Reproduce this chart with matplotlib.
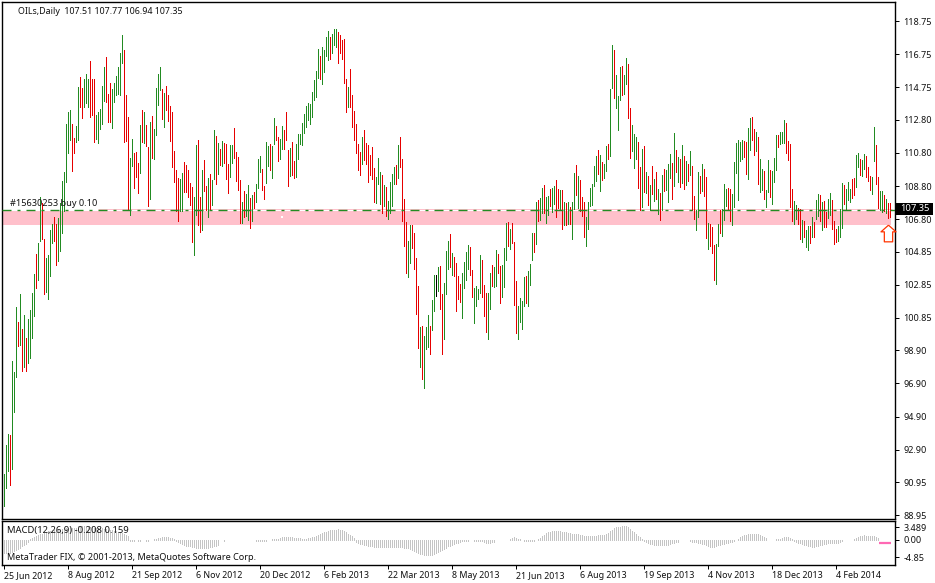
import matplotlib
matplotlib.use("Agg")
import matplotlib.pyplot as plt
from matplotlib.patches import Rectangle
from matplotlib.path import Path
import numpy as np

WIDTH, HEIGHT = 935, 583
FONT = "Noto Sans"

# daily bars
bar_high = [
    91.44, 93.19, 93.85, 93.79, 98.25, 97.59, 101.51, 100.60, 102.29, 100.18,
    101.03, 99.64, 100.78, 101.33, 102.35, 103.50, 104.70, 105.37, 108.14, 107.78,
    105.61, 104.46, 104.64, 106.15, 106.51, 106.93, 106.51, 106.87, 107.78, 109.11,
    109.65, 112.54, 113.27, 113.39, 112.54, 111.70, 112.42, 114.77, 115.38, 114.71,
    115.26, 115.56, 115.26, 116.34, 115.26, 115.26, 113.09, 113.27, 113.45, 114.83,
    115.98, 116.58, 114.35, 115.02, 114.65, 115.02, 115.44, 115.98, 116.82, 117.91,
    117.00, 114.29, 112.96, 110.49, 111.64, 110.79, 110.85, 110.19, 112.48, 113.39,
    113.27, 112.48, 111.16, 112.66, 113.03, 112.24, 114.71, 115.56, 115.98, 114.65,
    114.41, 114.83, 114.29, 113.63, 113.27, 110.91, 109.77, 109.29, 109.23, 109.59,
    110.25, 110.07, 109.77, 108.98, 108.74, 108.14, 111.28, 111.58, 108.14, 109.77,
    110.37, 108.80, 109.29, 109.53, 109.17, 112.18, 111.82, 111.40, 111.04, 111.52,
    111.40, 111.34, 110.13, 111.28, 111.28, 112.30, 110.85, 110.55, 109.17, 107.84,
    108.50, 108.32, 108.86, 108.08, 108.26, 108.44, 108.92, 110.43, 110.61, 109.83,
    108.80, 111.46, 111.22, 111.34, 111.22, 112.90, 112.42, 111.76, 111.64, 112.42,
    112.18, 113.27, 110.98, 111.10, 111.46, 110.31, 111.34, 111.94, 111.94, 112.60,
    113.15, 113.63, 113.81, 113.75, 114.47, 115.20, 115.74, 117.07, 116.64, 117.19,
    117.00, 117.79, 118.15, 117.79, 117.97, 118.27, 118.27, 118.09, 117.91, 117.61,
    117.67, 115.26, 114.77, 115.86, 114.29, 113.33, 112.54, 111.34, 110.85, 111.76,
    112.18, 111.40, 111.28, 110.67, 111.16, 109.89, 109.35, 110.49, 109.65, 109.47,
    108.86, 108.74, 107.90, 109.05, 109.53, 109.95, 110.07, 111.28, 111.76, 110.43,
    108.02, 106.63, 105.49, 106.45, 106.45, 105.97, 104.46, 102.77, 100.30, 100.36,
    99.76, 100.30, 101.03, 100.36, 101.93, 103.44, 103.44, 103.92, 103.98, 102.29,
    102.95, 104.89, 105.49, 105.91, 104.76, 104.52, 104.16, 103.38, 102.89, 103.56,
    104.22, 104.82, 105.25, 105.13, 103.74, 102.65, 102.77, 102.59, 104.64, 104.34,
    102.83, 102.35, 102.35, 103.56, 104.04, 103.92, 104.95, 104.70, 103.98, 104.04,
    105.07, 106.57, 106.63, 106.21, 106.57, 105.43, 103.08, 101.57, 102.05, 101.87,
    103.32, 103.38, 103.68, 104.10, 105.97, 105.97, 107.84, 107.96, 108.08, 108.68,
    108.86, 108.14, 108.20, 108.62, 108.68, 108.80, 109.17, 108.62, 108.56, 108.56,
    107.84, 107.78, 107.84, 107.54, 107.84, 109.59, 110.07, 109.41, 109.17, 108.14,
    107.84, 106.93, 107.84, 108.68, 108.92, 110.01, 110.61, 110.98, 110.67, 110.25,
    110.13, 111.22, 111.34, 114.65, 117.31, 117.00, 115.50, 114.23, 115.98, 116.04,
    115.50, 116.52, 116.16, 113.51, 112.48, 111.94, 111.76, 111.46, 109.95, 111.04,
    111.22, 109.65, 109.41, 108.86, 110.01, 109.23, 109.65, 108.62, 108.38, 109.47,
    109.83, 109.77, 110.13, 110.73, 110.19, 112.00, 110.98, 110.55, 110.43, 111.28,
    110.61, 110.31, 110.13, 110.91, 110.01, 108.20, 107.36, 109.65, 109.41, 110.13,
    109.83, 109.35, 106.57, 106.51, 106.33, 105.25, 105.31, 106.51, 107.36, 107.42,
    108.92, 108.62, 108.68, 108.62, 108.32, 110.25, 111.40, 111.58, 111.46, 111.58,
    111.52, 111.46, 112.30, 112.90, 112.96, 112.24, 112.06, 111.76, 110.43, 109.83,
    109.71, 108.56, 110.37, 109.77, 109.71, 110.49, 111.88, 111.88, 112.06, 112.06,
    112.78, 112.60, 111.52, 111.34, 108.62, 107.90, 107.66, 107.48, 107.42, 106.75,
    106.69, 106.15, 106.39, 106.39, 106.93, 106.63, 107.96, 108.32, 108.26, 107.84,
    107.90, 107.24, 108.02, 108.38, 107.96, 106.69, 106.21, 106.39, 107.42, 108.98,
    108.86, 108.62, 109.05, 108.62, 109.23, 109.29, 110.67, 110.79, 110.43, 110.37,
    110.73, 110.61, 109.95, 109.41, 109.35, 112.36, 111.28, 109.35, 108.50, 108.50,
    108.26, 108.02, 107.78, 107.77,
]
bar_low = [
    89.51, 90.59, 91.62, 90.77, 91.74, 95.18, 97.29, 99.16, 99.22, 97.65,
    97.89, 97.65, 98.13, 98.43, 99.64, 100.97, 102.65, 103.14, 105.49, 105.61,
    102.29, 102.41, 101.99, 103.38, 105.37, 105.49, 104.04, 104.28, 104.89, 105.97,
    107.30, 109.05, 110.79, 111.58, 109.71, 110.79, 111.46, 111.58, 113.57, 112.90,
    113.57, 113.81, 113.57, 112.96, 113.09, 111.46, 111.64, 111.40, 112.24, 112.54,
    113.93, 113.87, 112.66, 112.66, 112.30, 113.87, 114.29, 114.35, 114.29, 116.22,
    111.46, 111.52, 107.36, 107.06, 110.01, 108.68, 109.35, 108.38, 109.59, 111.46,
    111.40, 111.22, 107.60, 108.02, 110.49, 110.43, 111.88, 113.69, 114.59, 112.84,
    112.36, 113.39, 112.72, 111.52, 109.95, 109.05, 107.30, 106.69, 107.30, 107.30,
    108.44, 108.44, 108.14, 107.66, 105.43, 104.64, 107.06, 106.45, 106.03, 106.15,
    108.50, 107.36, 106.93, 107.36, 107.66, 109.23, 108.92, 109.53, 110.07, 110.01,
    110.19, 109.23, 108.38, 109.35, 110.19, 110.49, 109.11, 108.56, 106.57, 106.57,
    106.93, 106.99, 106.75, 106.27, 106.69, 107.48, 107.84, 108.68, 109.65, 108.56,
    108.02, 108.98, 110.01, 109.77, 109.29, 111.34, 111.58, 110.31, 110.43, 111.04,
    111.04, 111.58, 108.80, 109.41, 109.47, 109.29, 109.35, 110.43, 111.34, 111.28,
    112.00, 112.36, 112.78, 112.54, 112.96, 113.99, 114.17, 115.32, 115.26, 114.95,
    115.68, 116.64, 116.40, 116.46, 116.82, 117.31, 117.19, 116.22, 116.82, 116.46,
    115.02, 113.27, 113.57, 113.57, 112.36, 111.58, 110.79, 109.77, 109.47, 110.13,
    110.37, 110.13, 109.05, 109.47, 109.23, 107.84, 107.78, 108.92, 107.72, 107.18,
    107.60, 106.99, 106.81, 107.18, 107.60, 108.92, 108.92, 109.29, 109.95, 106.69,
    105.19, 103.56, 103.32, 104.16, 105.07, 103.80, 101.09, 99.04, 97.89, 97.17,
    96.62, 98.98, 99.10, 98.67, 100.12, 101.27, 102.17, 102.47, 101.39, 98.67,
    99.58, 102.29, 103.80, 103.92, 103.44, 103.38, 101.27, 101.99, 101.81, 100.84,
    102.65, 103.14, 103.80, 103.44, 102.11, 100.54, 101.57, 101.99, 102.35, 102.11,
    100.97, 100.00, 99.58, 101.39, 102.77, 102.71, 102.77, 103.56, 101.75, 102.11,
    102.71, 104.34, 105.19, 105.01, 105.37, 101.63, 99.94, 99.58, 100.60, 100.18,
    101.57, 101.75, 101.57, 102.83, 104.34, 104.82, 105.31, 106.69, 106.75, 107.18,
    107.18, 106.57, 107.06, 107.60, 107.24, 107.72, 106.93, 107.48, 107.42, 106.21,
    106.45, 106.45, 106.51, 106.51, 105.61, 107.42, 108.26, 107.48, 107.30, 106.99,
    105.73, 105.19, 106.21, 107.60, 107.66, 108.80, 109.11, 109.53, 108.50, 109.17,
    109.29, 109.71, 110.43, 110.61, 114.71, 114.11, 113.51, 112.18, 113.99, 114.29,
    114.35, 114.95, 112.90, 110.49, 110.91, 109.89, 110.43, 108.68, 107.36, 107.54,
    108.44, 108.38, 107.66, 107.36, 108.32, 107.90, 108.02, 107.12, 106.75, 107.36,
    108.50, 108.56, 107.84, 109.29, 108.02, 108.80, 109.65, 109.05, 108.74, 108.98,
    108.62, 108.86, 109.11, 109.47, 107.36, 106.81, 106.15, 106.93, 108.38, 108.50,
    108.20, 105.67, 105.01, 105.19, 104.76, 103.14, 102.89, 105.19, 105.97, 105.79,
    106.75, 107.60, 107.42, 106.69, 106.45, 107.54, 109.59, 107.96, 110.31, 110.43,
    110.55, 109.53, 109.23, 110.98, 111.58, 110.67, 110.91, 108.92, 108.44, 108.56,
    108.02, 107.54, 108.44, 108.14, 107.72, 109.05, 109.77, 111.16, 111.34, 111.40,
    111.40, 110.79, 110.37, 107.54, 106.69, 106.51, 106.81, 106.51, 105.61, 105.43,
    105.73, 105.13, 104.95, 105.37, 105.73, 105.73, 106.81, 106.99, 106.69, 106.15,
    106.33, 106.33, 106.87, 107.06, 106.21, 105.31, 105.43, 105.49, 105.73, 106.27,
    107.72, 107.42, 107.96, 107.84, 108.08, 108.26, 108.74, 109.95, 109.47, 109.41,
    109.83, 109.35, 109.11, 108.56, 108.32, 110.31, 108.92, 107.48, 107.36, 107.24,
    107.30, 107.18, 106.87, 106.94,
]
# G up, R down, K doji
bar_dir = "".join([
    "GGGRGGGRGR", "GRGGGGRGGR", "RGGGGRRGGG", "GGGGRRGGRR", "GGGRRRGGGG",
    "GRRRGGGGGG", "RRRGGRRRGR", "GRRGRGGGGR", "GRRRRRRRGG", "RRRRRGGRRG",
    "RRGRGGRGRG", "RRRGGRRRRG", "RGGRGRGGGR", "RGGRGGRRGG", "RRRGRRGGGG",
    "GGGGGGGGRG", "GGGRGGGRRR", "RRGRRRRRRG", "RRRRRRGGGR", "GRGGGGRGRR",
    "RRGGRRRRGR", "GGGRGGKGRR", "GGGRGRRRRG", "GGGRRGGGGR", "RRGGRGGRRG",
    "GGRGRRRGGG", "GRGGGRGRGG", "RGGRGGRRGR", "GRGRGGRGRR", "RGGGGGGRGR",
    "GGRGGRGGGR", "GGRRGGGRRG", "RGRGRGRGRG", "RGGGRGRGRG", "RGRGRRGGRG",
    "RRGRRRGGRG", "GGRRGGGGGG", "RRGGRRGRGG", "RGGRGGGRGG", "GRRRRGGRRG",
    "RGGRGRGGRG", "RRGGRRRGGG", "RGGGRRGGRG", "GRRRGGRRGG", "RGRR",
])

# MACD histogram, one value per bar up to the last grey one
macd_hist = [
    -3.7, -3.7, -3.6, -3.5, -3.3, -3.1, -2.9, -2.6, -2.2, -1.8, -1.4, -1.0, -0.6,
    0.2, 0.5, 0.8, 1.1, 1.4, 1.6, 1.8, 2.0, 2.2, 2.4, 2.6, 2.7, 2.8, 2.9, 3.0, 3.1,
    3.1, 3.2, 3.2, 3.3, 3.4, 3.4, 3.4, 3.4,
    4.0, 4.0, 3.9, 3.8, 3.7, 3.7, 3.6, 3.5, 3.4, 3.4, 3.3, 3.3, 3.2, 3.1, 3.0, 2.9,
    2.8, 2.7, 2.6, 2.4, 2.3, 2.1, 1.9, 1.7, 1.4, 1.0,
    -0.3, -0.4, -0.2, -0.1, -0.3, -0.3, -0.1, -0.1, -0.3, -0.2, -0.1, 0.1, 0.2,
    0.3, 0.5, 0.6, 0.7, 0.8, 0.8, 0.7, 0.6, 0.5, 0.4,
    -0.3, -0.6, -0.9, -1.2, -1.4, -1.6, -1.7, -1.8, -1.9, -2.0, -2.1, -2.1, -2.1,
    -2.2, -2.2, -2.1, -2.1, -2.0, -1.9, -1.8, -1.6, -1.3,
    -0.1, -0.1, -0.2, -0.1, 0, 0, -0.1, -0.1, 0, 0, -0.1, -0.1, 0, 0, 0, 0, -0.1, 0,
    -0.4, -0.4, -0.4, -0.3, -0.3, -0.2, -0.1, 0.1, 0.2, 0.3, 0.4, 0.4, 0.6, 0.7, 0.8,
    0.9, 0.9, 0.8, 0.7, 0.6, 0.5, 0.5, 0.5, 0.4, 0.4, 0.4, 0.5, 0.6, 0.7, 0.8,
    1.0, 1.3, 1.6, 1.9, 2.1, 2.3, 2.5, 2.7, 2.8, 2.9, 2.9, 3.0, 2.9, 2.7, 2.4, 2.1,
    1.8, 1.4, 1.0, 0.5,
    -0.5, -0.8, -1.1, -1.2, -1.4, -1.5, -1.6, -1.7, -1.8, -1.9, -1.9, -1.9, -1.9,
    -2.0, -2.0, -2.0, -2.0, -1.9, -1.9, -1.9, -1.9, -1.9, -1.9, -2.0, -2.1, -2.2,
    -2.3, -2.5, -2.7,
    -3.0, -3.2, -3.5, -3.8, -4.0, -4.2, -4.3, -4.3, -4.3, -4.2, -4.0, -3.7, -3.3,
    -3.0, -2.7, -2.4, -2.1,
    -1.8, -1.6, -1.4, -1.1, -0.9, -0.7, -0.5, -0.4,
    -0.2, -0.2, -0.2, -0.1, -0.1,
    -0.2, -0.3, -0.3, -0.4, -0.4, -0.5, -0.7, -0.8, -0.8, -0.6, -0.5,
    0, 0, 0, 0, 0, 0, 0,
    0.3, 0.5, 0.7, 0.6, 0.4, 0.3,
    -0.1, -0.3, -0.3, -0.4, -0.4, -0.3, -0.2, -0.1,
    0.3, 0.6, 1.1, 1.5, 1.9, 2.1, 2.3,
    2.4, 2.5, 2.5, 2.4, 2.4, 2.3, 2.2, 2.1, 2.0, 1.9, 1.8, 1.8, 1.7,
    1.6, 1.5, 1.4, 1.2, 1.1, 1.0, 1.0, 1.0, 1.1, 1.2, 1.3,
    1.3, 1.4, 1.4, 1.6, 1.9, 2.4,
    2.9, 3.3, 3.5, 3.7, 3.7, 3.8, 3.9, 3.8, 3.5, 3.1, 2.6, 2.1,
    1.6, 1.1, 0.7, 0.3,
    -0.4, -0.6, -0.8, -1.0, -1.2, -1.3, -1.4, -1.5, -1.5, -1.5, -1.5, -1.4, -1.3,
    -1.1, -0.9, -0.7, -0.6, -0.5,
    -0.1, 0, 0, -0.1, -0.1,
    -0.4, -0.5, -0.6, -0.6, -0.7, -0.8, -1.0, -1.2, -1.5, -1.7, -1.9, -2.0, -1.9,
    -1.8, -1.5, -1.3, -1.2, -1.0, -0.9, -0.8, -0.6, -0.5, -0.3,
    0.1, 0.4, 0.7, 1.0, 1.3, 1.5, 1.7, 1.8, 1.8, 1.8, 1.7, 1.6, 1.4, 1.2, 0.9, 0.5,
    0, 0, 0, 0,
    0.2, 0.3, 0.4, 0.5, 0.7, 0.9, 0.9, 0.6, 0.2,
    -0.3, -0.5, -0.7, -0.9, -1.1, -1.3, -1.5, -1.6, -1.8, -1.9, -1.9, -1.8, -1.7,
    -1.5, -1.3, -1.1, -1.0, -0.9, -0.8, -0.7, -0.7, -0.8, -0.8, -0.6, -0.4,
    0, 0, 0, 0, 0,
    0.3, 0.5, 0.7, 1.0, 1.2, 1.3, 1.2, 1.1, 1.1, 1.0, 1.0, 0.8, 0.5,
]
macd_tail = [-0.8] * 6

price_ticks = [118.75, 116.75, 114.75, 112.80, 110.80, 108.80, 106.80, 104.85,
               102.85, 100.85, 98.90, 96.90, 94.90, 92.90, 90.95, 88.95]
macd_ticks = [3.489, 0.00, -4.85]
macd_tick_labels = ["3.489", "0.00", "-4.85"]
date_labels = ["25 Jun 2012", "8 Aug 2012", "21 Sep 2012", "6 Nov 2012", "20 Dec 2012",
               "6 Feb 2013", "22 Mar 2013", "8 May 2013", "21 Jun 2013", "6 Aug 2013",
               "19 Sep 2013", "4 Nov 2013", "18 Dec 2013", "4 Feb 2014"]
date_bars = [32 * k for k in range(len(date_labels))]

band_top, band_bottom = 107.27, 106.45
band_edge = 107.42
order_price = 107.34
arrow_price = 105.95
speck_bar, speck_price = 139, 106.92

assert len(bar_high) == len(bar_low) == len(bar_dir) == 444, (len(bar_high), len(bar_low), len(bar_dir))
assert len(macd_hist) == 438, len(macd_hist)

plt.rcParams["font.family"] = [FONT, "DejaVu Sans"]


def px_axes(fig, left, top, right, bottom):
    return fig.add_axes([left / WIDTH, 1 - bottom / HEIGHT,
                         (right - left) / WIDTH, (bottom - top) / HEIGHT])


def px_text(fig, x, y, s, **kw):
    kw.setdefault("fontsize", 6.5)
    kw.setdefault("va", "center")
    kw.setdefault("color", "#111111")
    return fig.text(x / WIDTH, 1 - y / HEIGHT, s, **kw)


fig = plt.figure(figsize=(WIDTH / 100, HEIGHT / 100), dpi=100)
ax = px_axes(fig, 2, 2, 895, 519)
sub = px_axes(fig, 2, 521, 895, 565)

x_range = (-0.75, 445.75)
bars = np.arange(len(bar_high))
colors = {"G": "forestgreen", "R": "#e60000", "K": "black"}

# order band and line
ax.axhspan(band_bottom, band_top, xmin=0, xmax=0.9955, color="#ffc0cb", lw=0, zorder=1)
ax.hlines(band_edge, 47, 444, color="#ffc0cb", lw=0.72, zorder=1)

for code, color in colors.items():
    idx = [i for i in bars if bar_dir[i] == code]
    ax.vlines(idx, [bar_low[i] for i in idx], [bar_high[i] for i in idx],
              color=color, lw=0.72, antialiased=False, zorder=2)

ax.axhline(order_price, color="forestgreen", lw=1.0,
           linestyle=(0, (6.48, 4.32, 2.16, 4.32)), zorder=3)
ax.plot([speck_bar], [speck_price], marker="s", ms=2, color="white", mew=0, zorder=3)

# buy arrow next to the last bar
arrow = Path([(0, 1), (0.9, 0.2), (0.5, 0.2), (0.5, -1), (-0.5, -1), (-0.5, 0.2), (-0.9, 0.2), (0, 1)])
ax.plot([442], [arrow_price], marker=arrow, ms=12, mfc="white", mec="#ff3300", mew=0.9,
        clip_on=False, zorder=4)

ax.set_xlim(x_range)
ax.set_ylim(88.72, 119.90)
ax.set_xticks([])
ax.yaxis.tick_right()
ax.set_yticks(price_ticks)
ax.set_yticklabels(["%.2f" % t for t in price_ticks])

# MACD panel
sub.vlines(np.arange(len(macd_hist)), 0, macd_hist, color="#c4c4c4", lw=0.72, antialiased=False)
tail_x = len(macd_hist) + np.arange(len(macd_tail))
sub.hlines(macd_tail[0], tail_x[0] - 0.5, tail_x[-1] + 0.5, color="#ff69b4", lw=1.6)
sub.set_xlim(x_range)
sub.set_ylim(-6.95, 5.28)
sub.yaxis.tick_right()
sub.set_yticks(macd_ticks)
sub.set_yticklabels(macd_tick_labels)
sub.set_xticks(date_bars)
sub.set_xticklabels(date_labels, ha="left")

for a in (ax, sub):
    for spine in a.spines.values():
        spine.set_linewidth(1.0)
    a.tick_params(axis="y", length=3, width=0.72, pad=3, labelsize=6.5, labelcolor="#111111")
    a.tick_params(axis="x", length=3, width=0.72, pad=1.5, labelsize=6.4, labelcolor="#111111")

px_text(fig, 18, 11, "OILs,Daily  107.51 107.77 106.94 107.35", fontsize=6.4)
px_text(fig, 10, 204, "#15630253 buy 0.10", fontsize=6.6)
px_text(fig, 7, 530, "MACD(12,26,9) -0.208 0.159", fontsize=6.8, zorder=5)
px_text(fig, 7, 558, "MetaTrader FIX, \u00a9 2001-2013, MetaQuotes Software Corp.", fontsize=6.55, zorder=5)

# last price tag
fig.add_artist(Rectangle((896 / WIDTH, 1 - 215 / HEIGHT), 37 / WIDTH, 12 / HEIGHT,
                         transform=fig.transFigure, fc="black", ec="none", zorder=5))
px_text(fig, 914.5, 209, "107.35", color="white", ha="center", fontweight="bold",
        fontsize=6.8, zorder=6)

fig.savefig("out.png", dpi=100, facecolor="white")
